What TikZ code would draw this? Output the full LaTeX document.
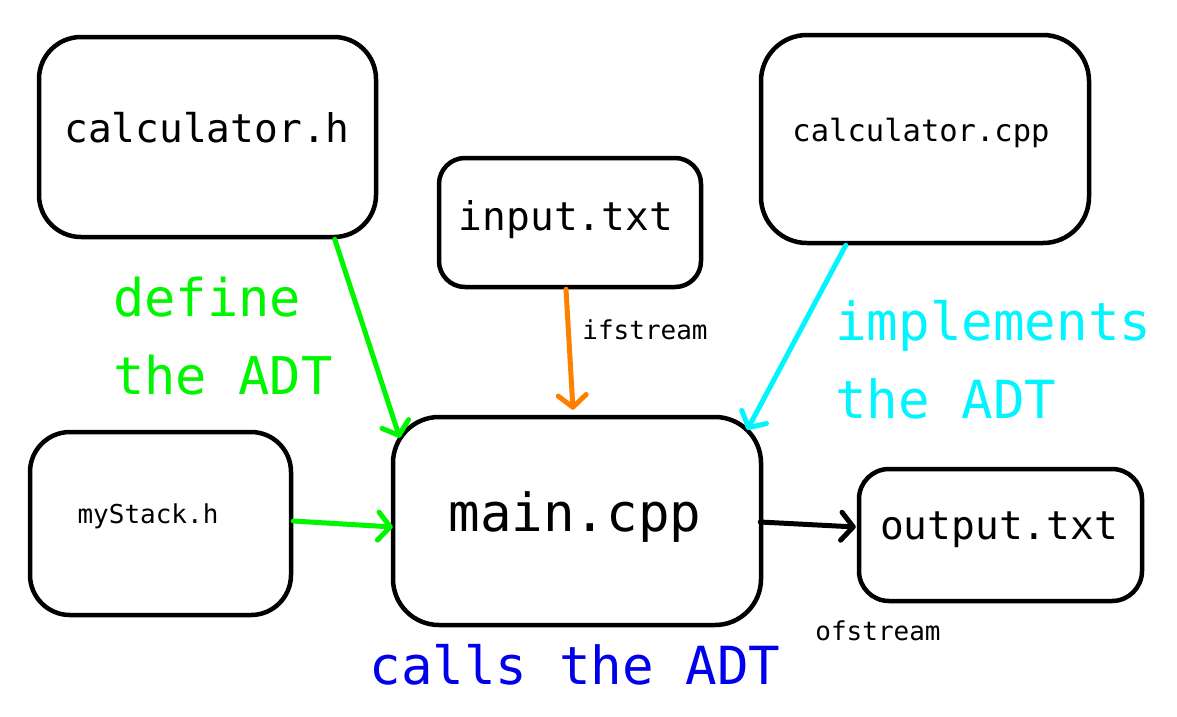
\documentclass[tikz,border=0pt]{standalone}
\usepackage{fontspec}
\setmainfont{DejaVu Sans Mono}
\usetikzlibrary{arrows.meta,calc}
\definecolor{cgreen}{RGB}{0,245,0}
\definecolor{ccyan}{RGB}{0,245,255}
\definecolor{cblue}{RGB}{0,0,235}
\definecolor{corange}{RGB}{255,128,0}
\tikzset{
  box/.style={draw=black,line width=4.5pt,rectangle,inner sep=0pt,fill=white},
  conn/.style={line width=5pt,line cap=round,-{Straight Barb[length=12pt,width=28pt,line width=5pt,round]}},
  txt/.style={inner sep=0pt,text=black},
}
\begin{document}
\begin{tikzpicture}[x=1pt,y=-1pt]
\useasboundingbox[fill=white] (0,0) rectangle (1177,716);
% boxes
\node[box,rounded corners=42pt,minimum width=337pt,minimum height=200pt] (calch) at (207.5,137) {};
\node[box,rounded corners=26pt,minimum width=262pt,minimum height=129pt] (input) at (570,222.5) {};
\node[box,rounded corners=46pt,minimum width=328pt,minimum height=208pt] (calccpp) at (925,139) {};
\node[box,rounded corners=40pt,minimum width=261pt,minimum height=183pt] (stack) at (160.5,523.5) {};
\node[box,rounded corners=46pt,minimum width=368pt,minimum height=208pt] (main) at (577,521) {};
\node[box,rounded corners=30pt,minimum width=283pt,minimum height=132pt] (output) at (1000.5,535) {};
% box texts
\node[txt,font=\fontsize{39.5}{40}\selectfont] (tcalch) at (207,128) {calculator.h};
\node[txt,font=\fontsize{39.5}{40}\selectfont] (tinput) at (566,220) {input.txt};
\node[txt,font=\fontsize{30.5}{31}\selectfont] (tcalccpp) at (921,133) {calculator.cpp};
\node[txt,font=\fontsize{26}{27}\selectfont] (tstack) at (148,516) {myStack.h};
\node[txt,font=\fontsize{52.5}{53}\selectfont] (tmain) at (575,517) {main.cpp};
\node[txt,font=\fontsize{39.5}{40}\selectfont] (toutput) at (999,530) {output.txt};
% labels
\node[txt,font=\fontsize{26}{27}\selectfont] (lif) at (645,330) {ifstream};
\node[txt,font=\fontsize{26}{27}\selectfont] (lof) at (878,631) {ofstream};
\node[txt,text=cgreen,font=\fontsize{52}{78}\selectfont,anchor=west,align=left] (ldef) at (113,336) {define\\the ADT};
\node[txt,text=ccyan,font=\fontsize{52.5}{78}\selectfont,anchor=west,align=left] (limpl) at (835,360) {implements\\the ADT};
\node[txt,text=cblue,font=\fontsize{52.5}{53}\selectfont] (lcalls) at (575,665) {calls the ADT};
% connectors
\draw[conn,cgreen] ($(calch.south west)+(298,0)$) -- ($(main.north west)+(9,23)$);
\draw[conn,cgreen] ($(stack.east)+(0,-2.5)$) -- ($(main.west)+(2,6)$);
\draw[conn,corange] ($(input.south)+(-4,0)$) -- ($(main.north)+(-4,-5)$);
\draw[conn,ccyan] ($(calccpp.south west)+(87,0)$) -- ($(main.north east)+(-16,15)$);
\draw[conn,black] ($(main.east)+(-3,1)$) -- ($(output.west)+(-1,-8)$);
\end{tikzpicture}
\end{document}
